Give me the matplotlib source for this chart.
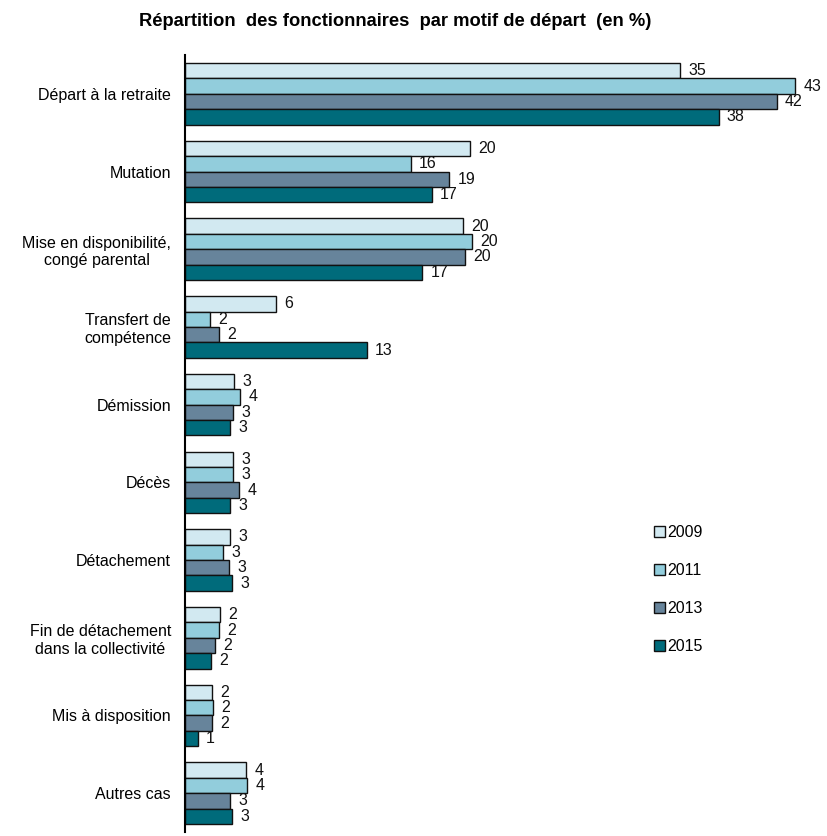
import matplotlib
matplotlib.use("Agg")
import matplotlib.pyplot as plt
import numpy as np

categories = ["Départ à la retraite", "Mutation", "Mise en disponibilité,\ncongé parental",
              "Transfert de\ncompétence", "Démission", "Décès", "Détachement",
              "Fin de détachement\ndans la collectivité", "Mis à disposition", "Autres cas"]
years = ["2009", "2011", "2013", "2015"]
v2009 = [34.9, 20.1, 19.6, 6.4, 3.45, 3.4, 3.2, 2.45, 1.9, 4.3]
v2011 = [43.0, 15.9, 20.2, 1.76, 3.9, 3.4, 2.7, 2.4, 2.0, 4.4]
v2013 = [41.7, 18.6, 19.7, 2.4, 3.4, 3.8, 3.1, 2.1, 1.9, 3.2]
v2015 = [37.6, 17.4, 16.7, 12.8, 3.2, 3.2, 3.3, 1.8, 0.9, 3.3]
colors = ["#D2E9F1", "#92CDDC", "#67849B", "#006B7B"]

plt.rcParams['font.family'] = ['Liberation Sans', 'DejaVu Sans']

fig = plt.figure(figsize=(8.27, 8.36), dpi=100)
ax = fig.add_axes([185/827, 4/836, 640/827, 777/836])

series = [v2009, v2011, v2013, v2015]
n = len(categories)
y = np.arange(n)
h = 0.198
for i, (vals, col, yr) in enumerate(zip(series, colors, years)):
    pos = y + (i - 1.5) * h
    ax.barh(pos, vals, height=h, color=col, edgecolor="#111111", linewidth=1.0, label=yr)
    for p, v in zip(pos, vals):
        ax.annotate(f"{v:.0f}", xy=(v, p), xytext=(6, 0), textcoords="offset points",
                    ha="left", va="center", fontsize=11.5, color="#111111")

ax.set_ylim(n - 0.5, -0.5)
ax.set_xlim(0, 640/14.19)
ax.set_yticks(y)
ax.set_yticklabels(categories, fontsize=11.5)
for lbl in ax.get_yticklabels():
    lbl.set_multialignment("center")
ax.tick_params(axis="y", length=0, pad=10)
ax.set_xticks([])
for s in ["top", "right", "bottom"]:
    ax.spines[s].set_visible(False)
ax.spines["left"].set_linewidth(1.5)
ax.spines["left"].set_color("#000000")

fig.text(0.478, 0.974, "Répartition  des fonctionnaires  par motif de départ  (en %)",
         ha="center", va="center", fontsize=13.2, fontweight="bold")

leg = ax.legend(loc="upper left", bbox_to_anchor=(646/827, 1 - 517/836),
                bbox_transform=fig.transFigure, frameon=False, fontsize=11.5,
                handlelength=0.7, handleheight=0.7, handletextpad=0.1,
                labelspacing=1.45, borderpad=0)
fig.savefig("out.png", dpi=100)
